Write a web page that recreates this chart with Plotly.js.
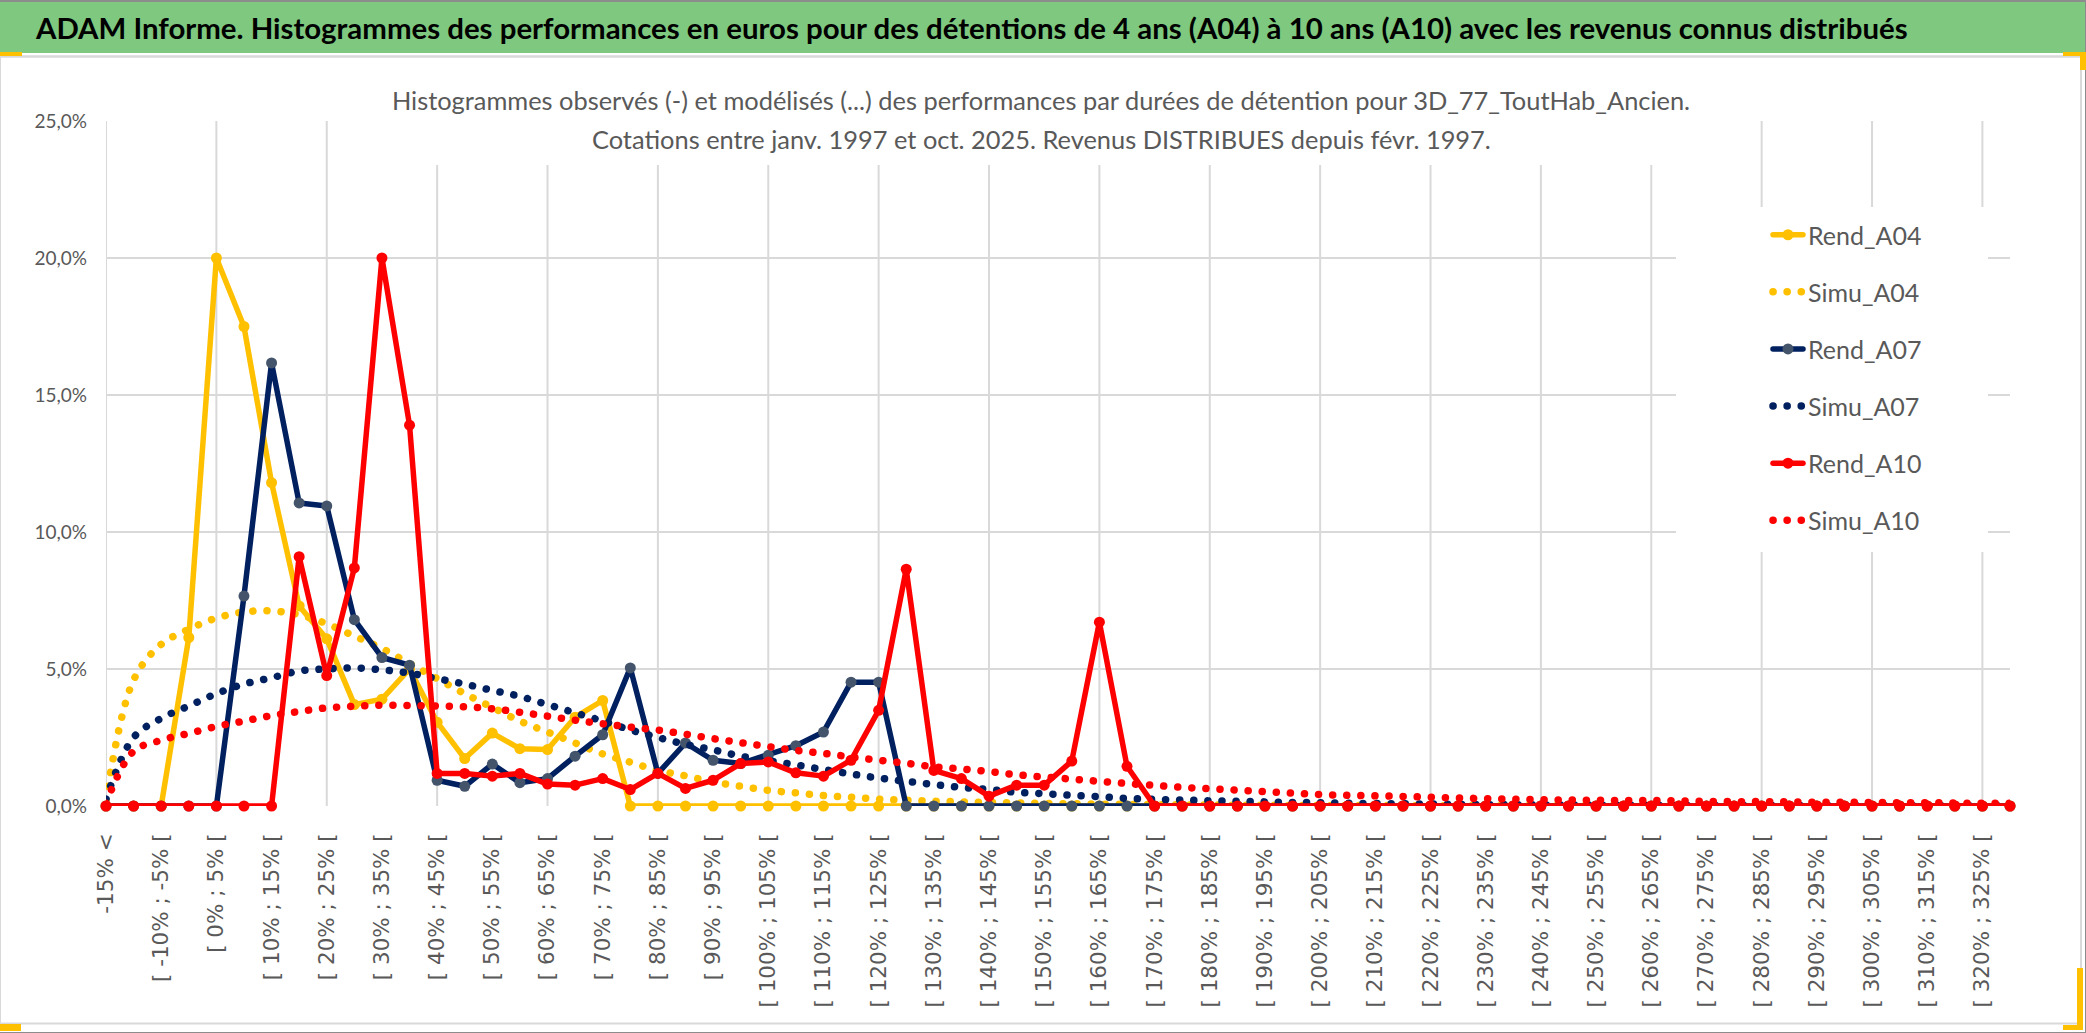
<!DOCTYPE html>
<html lang="fr">
<head>
<meta charset="utf-8">
<title>ADAM Informe - Histogrammes des performances</title>
<script src="https://cdn.plot.ly/plotly-3.0.1.min.js"></script>
<style>
  html, body { margin: 0; padding: 0; background: #ffffff; overflow: hidden; }
  #chart { width: 2086px; height: 1033px; }
  .js-line { stroke-linecap: round !important; stroke-linejoin: round !important; }
</style>
</head>
<body>
<div id="chart"></div>
<script>
// ---------- DATA ----------
const categories = [
  "-15% <", "[ -15% ; -10% [", "[ -10% ; -5% [", "[ -5% ; 0% [", "[ 0% ; 5% [",
  "[ 5% ; 10% [", "[ 10% ; 15% [", "[ 15% ; 20% [", "[ 20% ; 25% [", "[ 25% ; 30% [",
  "[ 30% ; 35% [", "[ 35% ; 40% [", "[ 40% ; 45% [", "[ 45% ; 50% [", "[ 50% ; 55% [",
  "[ 55% ; 60% [", "[ 60% ; 65% [", "[ 65% ; 70% [", "[ 70% ; 75% [", "[ 75% ; 80% [",
  "[ 80% ; 85% [", "[ 85% ; 90% [", "[ 90% ; 95% [", "[ 95% ; 100% [", "[ 100% ; 105% [",
  "[ 105% ; 110% [", "[ 110% ; 115% [", "[ 115% ; 120% [", "[ 120% ; 125% [", "[ 125% ; 130% [",
  "[ 130% ; 135% [", "[ 135% ; 140% [", "[ 140% ; 145% [", "[ 145% ; 150% [", "[ 150% ; 155% [",
  "[ 155% ; 160% [", "[ 160% ; 165% [", "[ 165% ; 170% [", "[ 170% ; 175% [", "[ 175% ; 180% [",
  "[ 180% ; 185% [", "[ 185% ; 190% [", "[ 190% ; 195% [", "[ 195% ; 200% [", "[ 200% ; 205% [",
  "[ 205% ; 210% [", "[ 210% ; 215% [", "[ 215% ; 220% [", "[ 220% ; 225% [", "[ 225% ; 230% [",
  "[ 230% ; 235% [", "[ 235% ; 240% [", "[ 240% ; 245% [", "[ 245% ; 250% [", "[ 250% ; 255% [",
  "[ 255% ; 260% [", "[ 260% ; 265% [", "[ 265% ; 270% [", "[ 270% ; 275% [", "[ 275% ; 280% [",
  "[ 280% ; 285% [", "[ 285% ; 290% [", "[ 290% ; 295% [", "[ 295% ; 300% [", "[ 300% ; 305% [",
  "[ 305% ; 310% [", "[ 310% ; 315% [", "[ 315% ; 320% [", "[ 320% ; 325% [", "[ 325% ; 330% ["
];

// values in %
const rendA04 = [
  0, 0, 0, 6.15, 20.0, 17.5, 11.8, 7.3, 6.1, 3.7,
  3.9, 5.0, 3.06, 1.73, 2.66, 2.09, 2.06, 3.24, 3.85, 0,
  0, 0, 0, 0, 0, 0, 0, 0, 0, 0,
  0, 0, 0, 0, 0, 0, 0, 0, 0, 0,
  0, 0, 0, 0, 0, 0, 0, 0, 0, 0,
  0, 0, 0, 0, 0, 0, 0, 0, 0, 0,
  0, 0, 0, 0, 0, 0, 0, 0, 0, 0
];
const simuA04 = [
  0.2, 4.6, 5.9, 6.45, 6.86, 7.08, 7.12, 6.98, 6.65, 6.2,
  5.75, 5.2, 4.65, 4.1, 3.6, 3.1, 2.7, 2.3, 1.9, 1.6,
  1.3, 1.1, 0.88, 0.72, 0.57, 0.48, 0.38, 0.32, 0.25, 0.21,
  0.18, 0.15, 0.13, 0.11, 0.09, 0.08, 0.07, 0.06, 0.05, 0.04,
  0.04, 0.03, 0.03, 0.02, 0.02, 0.02, 0.02, 0.01, 0.01, 0.01,
  0.01, 0.01, 0.01, 0.01, 0.01, 0.01, 0, 0, 0, 0,
  0, 0, 0, 0, 0, 0, 0, 0, 0, 0
];
const rendA07 = [
  0, 0, 0, 0, 0, 7.66, 16.17, 11.06, 10.95, 6.8,
  5.42, 5.14, 0.94, 0.72, 1.53, 0.85, 1.0, 1.82, 2.6, 5.04,
  1.19, 2.3, 1.67, 1.55, 1.85, 2.2, 2.7, 4.52, 4.52, 0,
  0, 0, 0, 0, 0, 0, 0, 0, 0, 0,
  0, 0, 0, 0, 0, 0, 0, 0, 0, 0,
  0, 0, 0, 0, 0, 0, 0, 0, 0, 0,
  0, 0, 0, 0, 0, 0, 0, 0, 0, 0
];
const simuA07 = [
  0.25, 2.5, 3.2, 3.65, 4.1, 4.45, 4.68, 4.93, 5.0, 5.04,
  4.97, 4.85, 4.65, 4.45, 4.22, 4.0, 3.7, 3.4, 3.1, 2.78,
  2.5, 2.25, 2.05, 1.82, 1.65, 1.5, 1.33, 1.17, 1.02, 0.9,
  0.78, 0.68, 0.6, 0.5, 0.45, 0.39, 0.34, 0.28, 0.24, 0.22,
  0.19, 0.17, 0.15, 0.13, 0.12, 0.1, 0.09, 0.08, 0.07, 0.06,
  0.05, 0.05, 0.04, 0.04, 0.03, 0.03, 0.03, 0.02, 0.02, 0.02,
  0.02, 0.02, 0.01, 0.01, 0.01, 0.01, 0.01, 0.01, 0.01, 0.01
];
const rendA10 = [
  0, 0, 0, 0, 0, 0, 0, 9.1, 4.76, 8.69,
  20.0, 13.9, 1.19, 1.19, 1.09, 1.19, 0.8, 0.76, 1.0, 0.6,
  1.19, 0.64, 0.94, 1.55, 1.61, 1.21, 1.09, 1.67, 3.49, 8.64,
  1.3, 1.0, 0.36, 0.76, 0.76, 1.64, 6.71, 1.45, 0, 0,
  0, 0, 0, 0, 0, 0, 0, 0, 0, 0,
  0, 0, 0, 0, 0, 0, 0, 0, 0, 0,
  0, 0, 0, 0, 0, 0, 0, 0, 0, 0
];
const simuA10 = [
  0.1, 2.0, 2.4, 2.65, 2.9, 3.1, 3.3, 3.45, 3.58, 3.64,
  3.68, 3.67, 3.65, 3.62, 3.55, 3.42, 3.28, 3.13, 3.0, 2.88,
  2.77, 2.62, 2.46, 2.31, 2.17, 2.03, 1.92, 1.79, 1.67, 1.56,
  1.43, 1.35, 1.26, 1.14, 1.06, 0.98, 0.9, 0.82, 0.75, 0.68,
  0.63, 0.58, 0.52, 0.47, 0.42, 0.39, 0.37, 0.35, 0.32, 0.29,
  0.27, 0.25, 0.23, 0.22, 0.21, 0.2, 0.2, 0.19, 0.17, 0.16,
  0.16, 0.15, 0.14, 0.14, 0.13, 0.12, 0.12, 0.11, 0.1, 0.1
];

const seriesNames = ["Rend_A04", "Simu_A04", "Rend_A07", "Simu_A07", "Rend_A10", "Simu_A10"];
const yTickValues = [0, 5, 10, 15, 20, 25];
const yTickLabels = ["0,0%", "5,0%", "10,0%", "15,0%", "20,0%", "25,0%"];

const headerText = "ADAM Informe. Histogrammes des performances en euros pour des détentions de 4 ans (A04) à 10 ans (A10) avec les revenus connus distribués";
const titleLine1 = "Histogrammes observés (-) et modélisés (...) des performances par durées de détention pour 3D_77_ToutHab_Ancien.";
const titleLine2 = "Cotations entre janv. 1997 et oct. 2025. Revenus DISTRIBUES depuis févr. 1997.";

// ---------- STYLE / GEOMETRY ----------
const W = 2086, H = 1033;
const PL = 106, PR = 2010, PT = 121, PB = 806;
const X = px => (px - PL) / (PR - PL);
const Y = py => (PB - py) / (PB - PT);
const CAL = 'Lato, "Liberation Sans", sans-serif';
const GRAY_TXT = '#595959';
const GRID = '#D9D9D9';
const YELLOW = '#FFC000', NAVY = '#002060', RED = '#FF0000', SLATE = '#44546A';

function rendTrace(name, y, color, markerColor) {
  return {
    type: 'scatter', mode: 'lines+markers', name: name, legendgroup: name,
    x: categories, y: y, cliponaxis: false,
    line: { color: color, width: 5.5 },
    marker: { color: markerColor, size: 11, line: { width: 0 } },
    hoverinfo: 'skip'
  };
}
function simuTrace(name, y, color) {
  return {
    type: 'scatter', mode: 'lines', name: name, legendgroup: name,
    x: categories, y: y, cliponaxis: false,
    line: { color: color, width: 7.5, dash: '0.1px,14px', shape: 'spline', smoothing: 1 },
    hoverinfo: 'skip'
  };
}

const traces = [
  rendTrace(seriesNames[0], rendA04, YELLOW, YELLOW),
  simuTrace(seriesNames[1], simuA04, YELLOW),
  rendTrace(seriesNames[2], rendA07, NAVY, SLATE),
  simuTrace(seriesNames[3], simuA07, NAVY),
  rendTrace(seriesNames[4], rendA10, RED, RED),
  simuTrace(seriesNames[5], simuA10, RED)
];

function rect(x0, y0, x1, y1, color, layer) {
  return { type: 'rect', xref: 'paper', yref: 'paper', x0: X(x0), x1: X(x1), y0: Y(y1), y1: Y(y0),
           fillcolor: color, line: { width: 0 }, layer: layer || 'above' };
}
function hline(x0, x1, y, color, w) {
  return { type: 'line', xref: 'paper', yref: 'paper', x0: X(x0), x1: X(x1), y0: Y(y), y1: Y(y),
           line: { color: color, width: w }, layer: 'above' };
}
function vline(x, y0, y1, color, w) {
  return { type: 'line', xref: 'paper', yref: 'paper', x0: X(x), x1: X(x), y0: Y(y0), y1: Y(y1),
           line: { color: color, width: w }, layer: 'above' };
}

const shapes = [];
// vertical gridlines every 4 categories
categories.forEach((c, i) => {
  if (i % 4 === 0) {
    shapes.push({ type: 'line', xref: 'x', yref: 'paper', x0: i, x1: i, y0: 0, y1: 1,
                  line: { color: GRID, width: 2 }, layer: 'below' });
  }
});
// frame & header
shapes.push(rect(0, 2, W, 53, '#7EC87F'));
shapes.push(rect(0, 0, W, 2, '#8C8C8C'));
shapes.push(hline(0, 2082, 56.5, GRID, 2.5));
shapes.push(vline(2081, 56, 1024, GRID, 2));
shapes.push(hline(0, 2082, 1023.5, GRID, 2));
shapes.push(vline(2085.5, 0, H, '#8C8C8C', 1));
shapes.push(hline(0, W, 1032.5, '#8C8C8C', 1));
shapes.push(vline(0.5, 56, 1024, GRID, 1));
// selection handles
shapes.push(rect(0, 52, 22, 56, YELLOW));
shapes.push(rect(2063, 52, 2086, 56, YELLOW));
shapes.push(rect(2080, 52, 2086, 70, YELLOW));
shapes.push(rect(2077, 968, 2083, 1030, YELLOW));
shapes.push(rect(2063, 1025, 2083, 1030, YELLOW));
shapes.push(rect(0, 1024, 21, 1031, YELLOW));
// title and legend background boxes
shapes.push(rect(373, 60, 1708, 165, '#FFFFFF'));
shapes.push(rect(1676, 207, 1988, 552, '#FFFFFF'));

const layout = {
  width: W, height: H,
  margin: { l: PL, r: W - PR, t: PT, b: H - PB, pad: 0, autoexpand: false },
  paper_bgcolor: '#FFFFFF', plot_bgcolor: '#FFFFFF',
  separators: ', ',
  showlegend: true,
  title: {
    text: titleLine1,
    font: { family: CAL, size: 25.4, color: GRAY_TXT },
    xref: 'paper', x: X(1041), xanchor: 'center',
    yref: 'container', y: 1 - 101 / H, yanchor: 'middle',
    automargin: false
  },
  xaxis: {
    type: 'category', range: [0, categories.length - 1],
    tickmode: 'array',
    tickvals: categories.filter((c, i) => i % 2 === 0),
    ticktext: categories.filter((c, i) => i % 2 === 0),
    tickangle: -90, ticks: '', showgrid: false, zeroline: false, showline: false,
    tickfont: { family: '"DejaVu Sans", Verdana, sans-serif', size: 21.5, color: GRAY_TXT },
    ticklabelstandoff: 22, fixedrange: true
  },
  yaxis: {
    range: [0, 25], tickmode: 'array', tickvals: yTickValues, ticktext: yTickLabels,
    showgrid: true, gridcolor: GRID, gridwidth: 2, zeroline: false, showline: false, ticks: '',
    tickfont: { family: CAL, size: 19, color: GRAY_TXT },
    ticklabelstandoff: 18, fixedrange: true
  },
  legend: {
    x: X(1768), xanchor: 'left', y: Y(212), yanchor: 'top',
    bgcolor: 'rgba(0,0,0,0)', borderwidth: 0,
    font: { family: CAL, size: 25, color: GRAY_TXT },
    tracegroupgap: 21.6, traceorder: 'grouped'
  },
  shapes: shapes,
  annotations: [
    {
      xref: 'paper', yref: 'paper', x: X(33), y: Y(28), xanchor: 'left', yanchor: 'middle',
      text: headerText, showarrow: false,
      font: { family: CAL, size: 29.4, color: '#000000', weight: 700 }
    },
    {
      xref: 'paper', yref: 'paper', x: X(1041), y: Y(139), xanchor: 'center', yanchor: 'middle',
      text: titleLine2, showarrow: false,
      font: { family: CAL, size: 25.4, color: GRAY_TXT }
    }
  ]
};

Plotly.newPlot('chart', traces, layout, { displayModeBar: false, staticPlot: true });
</script>
</body>
</html>
